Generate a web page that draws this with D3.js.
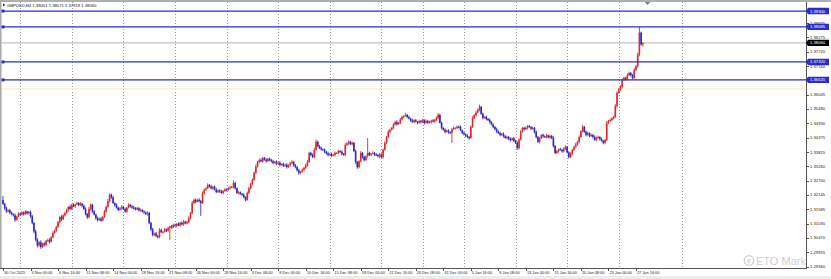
<!DOCTYPE html>
<html>
<head>
<meta charset="utf-8">
<script src="https://cdn.jsdelivr.net/npm/d3@7"></script>
<style>
  html, body { margin: 0; padding: 0; background: #fff; }
  #chart { width: 831px; height: 279px; }
  svg { display: block; }
</style>
</head>
<body>
<div id="chart"></div>
<script>
// GBPUSD H4 closes, bar 0 = 30 Oct 08:00
const closes = [
  1.3180,1.3162,1.3150,1.3155,1.3146,1.3140,1.3135,1.3118,1.3130,1.3142,
  1.3138,1.3146,1.3140,1.3150,1.3143,1.3148,1.3132,1.3105,1.3072,1.3040,
  1.3018,1.3030,1.3012,1.3025,1.3020,1.3036,1.3039,1.3032,1.3050,1.3067,
  1.3075,1.3090,1.3108,1.3129,1.3120,1.3135,1.3144,1.3155,1.3168,1.3160,
  1.3176,1.3170,1.3178,1.3183,1.3175,1.3180,1.3172,1.3160,1.3140,1.3128,
  1.3160,1.3176,1.3150,1.3138,1.3125,1.3117,1.3122,1.3115,1.3129,1.3150,
  1.3168,1.3190,1.3215,1.3205,1.3183,1.3175,1.3165,1.3156,1.3162,1.3168,
  1.3160,1.3150,1.3165,1.3176,1.3170,1.3165,1.3164,1.3158,1.3163,1.3155,
  1.3156,1.3150,1.3146,1.3140,1.3144,1.3106,1.3080,1.3059,1.3065,1.3055,
  1.3051,1.3078,1.3070,1.3071,1.3080,1.3075,1.3086,1.3092,1.3088,1.3098,
  1.3094,1.3102,1.3096,1.3106,1.3100,1.3110,1.3104,1.3109,1.3125,1.3144,
  1.3183,1.3195,1.3188,1.3195,1.3190,1.3183,1.3222,1.3235,1.3240,1.3253,
  1.3248,1.3240,1.3246,1.3235,1.3226,1.3232,1.3228,1.3222,1.3230,1.3236,
  1.3234,1.3240,1.3244,1.3246,1.3261,1.3240,1.3222,1.3225,1.3218,1.3215,
  1.3205,1.3195,1.3222,1.3240,1.3258,1.3273,1.3300,1.3325,1.3343,1.3350,
  1.3345,1.3358,1.3352,1.3346,1.3355,1.3351,1.3345,1.3339,1.3344,1.3336,
  1.3340,1.3331,1.3335,1.3328,1.3332,1.3323,1.3330,1.3338,1.3343,1.3330,
  1.3323,1.3310,1.3300,1.3305,1.3312,1.3320,1.3330,1.3343,1.3378,1.3370,
  1.3362,1.3390,1.3421,1.3405,1.3397,1.3392,1.3390,1.3382,1.3376,1.3370,
  1.3374,1.3368,1.3370,1.3378,1.3378,1.3385,1.3382,1.3374,1.3370,1.3409,
  1.3415,1.3421,1.3412,1.3417,1.3385,1.3343,1.3323,1.3345,1.3378,1.3362,
  1.3350,1.3365,1.3378,1.3370,1.3375,1.3378,1.3372,1.3370,1.3365,1.3372,
  1.3362,1.3390,1.3417,1.3440,1.3460,1.3468,1.3475,1.3488,1.3498,1.3490,
  1.3495,1.3508,1.3518,1.3522,1.3526,1.3518,1.3512,1.3505,1.3498,1.3505,
  1.3500,1.3495,1.3502,1.3498,1.3506,1.3495,1.3502,1.3496,1.3498,1.3504,
  1.3500,1.3506,1.3515,1.3526,1.3495,1.3475,1.3468,1.3460,1.3465,1.3458,
  1.3456,1.3470,1.3475,1.3475,1.3480,1.3479,1.3466,1.3456,1.3450,1.3445,
  1.3440,1.3436,1.3480,1.3514,1.3525,1.3535,1.3545,1.3557,1.3530,1.3514,
  1.3518,1.3510,1.3506,1.3498,1.3488,1.3479,1.3470,1.3462,1.3455,1.3448,
  1.3452,1.3444,1.3436,1.3440,1.3432,1.3428,1.3435,1.3425,1.3417,1.3397,
  1.3430,1.3460,1.3475,1.3470,1.3475,1.3482,1.3479,1.3472,1.3475,1.3460,
  1.3440,1.3421,1.3435,1.3448,1.3442,1.3440,1.3446,1.3438,1.3444,1.3436,
  1.3405,1.3378,1.3385,1.3392,1.3390,1.3384,1.3395,1.3401,1.3380,1.3362,
  1.3375,1.3390,1.3401,1.3410,1.3421,1.3440,1.3462,1.3479,1.3460,1.3448,
  1.3455,1.3444,1.3448,1.3440,1.3428,1.3438,1.3440,1.3432,1.3425,1.3417,
  1.3428,1.3495,1.3502,1.3506,1.3512,1.3518,1.3560,1.3612,1.3625,1.3635,
  1.3662,1.3670,1.3665,1.3681,1.3689,1.3680,1.3670,1.3701,1.3715,1.3760,
  1.3846,1.3800,1.3806
];
const firstOpen = 1.3195;
// wick lengths above / below the body, in pips
const upperWick = [
  15,4,6,3,5,4,3,7,4,5, 3,6,4,5,3,4,6,5,4,7, 6,5,8,4,6,3,5,7,4,6, 5,4,6,3,7,4,5,6,3,8,
  4,6,3,5,4,7,3,5,6,4, 8,5,4,6,3,5,4,7,4,6, 5,9,6,4,5,3,6,4,5,7, 4,5,3,6,4,5,7,3,5,4,
  6,3,5,4,7,5,4,6,3,5, 4,7,5,3,6,4,5,3,6,4, 5,3,6,4,5,7,4,5,6,4, 8,5,6,4,7,5,6,4,5,7,
  4,6,3,5,7,4,5,6,3,5, 4,5,6,3,9,5,4,6,3,5, 6,4,5,7,4,6,5,8,4,6, 7,5,4,6,3,5,4,6,3,5,
  4,6,3,5,4,6,3,5,7,4, 5,4,6,3,5,4,6,7,5,4, 6,8,9,5,4,6,3,5,4,6, 3,5,4,6,3,5,4,6,3,7,
  5,6,4,5,3,6,4,5,7,4, 5,4,58,5,3,6,4,5,3,6, 4,5,6,4,7,5,4,6,5,7, 4,6,5,3,7,4,5,3,6,4,
  5,3,6,4,5,3,6,4,5,3, 6,4,5,8,4,5,3,6,4,5, 4,5,6,3,5,4,6,3,5,4, 6,4,5,7,4,6,5,9,4,5,
  3,5,4,6,3,5,4,6,3,5, 4,6,3,5,4,6,3,5,4,6, 5,7,4,5,6,4,5,3,6,4, 5,4,6,3,5,4,6,3,5,4,
  6,4,5,3,6,4,5,7,4,5, 6,4,5,7,4,6,5,8,4,5, 6,3,5,4,6,4,5,3,6,4, 5,7,4,6,5,4,8,6,5,7,
  6,5,4,7,6,4,5,7,6,8, 22,4,1
];
const lowerWick = [
  4,6,5,3,6,4,5,8,4,3, 5,4,6,3,5,4,6,5,7,6, 8,5,7,4,6,5,4,6,3,5, 4,6,3,5,7,4,5,3,6,4,
  5,3,6,4,5,3,6,4,5,7, 4,6,5,3,7,6,4,5,3,4, 5,4,6,5,3,6,4,5,3,6, 4,5,6,3,5,4,6,4,3,5,
  6,4,5,3,6,5,7,6,4,5, 6,5,4,6,3,5,4,47,5,3, 4,6,3,5,4,6,3,5,4,6, 5,4,6,3,5,50,4,6,5,3,
  5,4,6,3,5,4,6,3,5,4, 6,3,5,4,6,5,4,6,3,5, 4,6,3,5,4,6,3,5,4,6, 3,5,4,6,3,5,4,6,3,5,
  4,6,3,5,4,6,3,5,4,6, 5,4,7,5,3,6,4,5,3,5, 4,6,3,5,4,6,3,5,4,6, 3,5,4,6,3,5,4,6,3,5,
  4,6,3,5,4,8,7,5,4,6, 5,3,6,4,5,3,6,4,5,7, 4,6,3,5,4,6,3,5,4,6, 3,5,4,6,3,5,4,6,3,5,
  4,6,3,5,4,6,3,5,4,6, 3,5,4,6,3,5,4,6,3,5, 4,39,3,5,4,6,3,5,4,6, 5,7,3,5,4,6,3,5,4,6,
  3,5,4,6,3,5,4,6,3,5, 4,6,3,5,4,6,3,5,4,7, 6,4,3,5,4,6,3,5,4,6, 5,4,6,3,5,4,6,3,5,4,
  6,5,4,6,3,5,4,6,5,6, 4,6,3,5,4,6,3,5,4,6, 3,5,4,6,3,5,4,6,3,5, 6,4,5,3,6,4,5,6,4,5,
  6,4,5,6,4,5,6,4,5,7, 6,5,8
];

// price scale labels
const priceTicks = ['1.38835','1.38275','1.37720','1.37160','1.36605','1.36045','1.35490','1.34930',
  '1.34375','1.33815','1.33260','1.32700','1.32145','1.31585','1.31030','1.30470','1.29915','1.29360'];
// time scale labels, one every 16 bars
const timeLabels = ['30 Oct 2025','4 Nov 00:00','6 Nov 16:00','11 Nov 08:00','14 Nov 00:00','18 Nov 16:00',
  '21 Nov 08:00','26 Nov 00:00','28 Nov 16:00','3 Dec 08:00','8 Dec 00:00','10 Dec 16:00',
  '15 Dec 08:00','18 Dec 00:00','22 Dec 16:00','26 Dec 08:00','31 Dec 00:00','5 Jan 16:00',
  '8 Jan 08:00','13 Jan 00:00','15 Jan 16:00','20 Jan 08:00','23 Jan 00:00','27 Jan 16:00'];
const labelStep = 16;
// weekly separators (bar index of each Monday 00:00)
const weekBars = [10,40,70,100,130,160,190,220,244,268,298,328,358,395];
// horizontal line objects
const blueLevels = [1.39300, 1.38685, 1.37320, 1.36620];
const yellowLevel = 1.3627;
const bidPrice = 1.38060;
const header = 'GBPUSD,H4  1.38001 1.38071 1.37919 1.38060';

const W = 831, H = 279;
const axisX = 806, axisY = 268;

let svg = d3.select('#chart').append('svg')
  .attr('width', W).attr('height', H)
  .style('font-family', '"Liberation Sans", Arial, sans-serif');

svg.append('rect').attr('width', W).attr('height', H).attr('fill', '#fff');

// bars
let bars = closes.map((c, i) => {
  let o = i === 0 ? firstOpen : closes[i - 1];
  let hi = Math.max(o, c) + upperWick[i] / 10000;
  let lo = Math.min(o, c) - lowerWick[i] / 10000;
  return { i: i, o: o, h: hi, l: lo, c: c };
});

let x = d3.scaleLinear().domain([0, 467]).range([3, 806.24]);
let y = d3.scaleLinear().domain([+priceTicks[priceTicks.length - 1], +priceTicks[0]]).range([266.5, 23]);

let plot = svg.append('g');
svg.append('clipPath').attr('id', 'clip')
  .append('rect').attr('x', 0).attr('y', 0).attr('width', axisX).attr('height', axisY);
plot.attr('clip-path', 'url(#clip)');

// watermark
let wm = plot.append('g').attr('fill', '#cfcfcf');
wm.append('circle').attr('cx', 749).attr('cy', 260.5).attr('r', 4.8)
  .attr('fill', 'none').attr('stroke', '#cfcfcf').attr('stroke-width', 1.3);
wm.append('text').attr('x', 749).attr('y', 263).attr('text-anchor', 'middle')
  .attr('font-size', 7).attr('font-weight', 'bold').text('e');
wm.append('text').attr('x', 756).attr('y', 264.5).attr('font-size', 11).text('ETO Markets');

// weekly grid
plot.selectAll('.vgrid').data(weekBars).enter().append('line')
  .attr('x1', d => Math.round(x(d)) + 0.5).attr('x2', d => Math.round(x(d)) + 0.5)
  .attr('y1', 2).attr('y2', axisY)
  .attr('stroke', '#9a9a9a').attr('stroke-width', 1).attr('stroke-dasharray', '1,2');

// faint level
plot.append('line').attr('x1', 0).attr('x2', axisX)
  .attr('y1', y(yellowLevel)).attr('y2', y(yellowLevel))
  .attr('stroke', '#f3edc4').attr('stroke-width', 1);

// bid line
plot.append('line').attr('x1', 0).attr('x2', axisX)
  .attr('y1', y(bidPrice)).attr('y2', y(bidPrice))
  .attr('stroke', '#b4b4b4').attr('stroke-width', 1);

// candles
let col = d => d.c >= d.o ? '#dd2a2a' : '#2a2acc';
let cg = plot.append('g');
cg.selectAll('.wick').data(bars).enter().append('line')
  .attr('x1', d => x(d.i)).attr('x2', d => x(d.i))
  .attr('y1', d => y(d.h)).attr('y2', d => y(d.l))
  .attr('stroke', col).attr('stroke-width', 0.9);
cg.selectAll('.body').data(bars).enter().append('rect')
  .attr('x', d => x(d.i) - 0.8).attr('width', 1.6)
  .attr('y', d => y(Math.max(d.o, d.c)))
  .attr('height', d => Math.max(0.9, y(Math.min(d.o, d.c)) - y(Math.max(d.o, d.c))))
  .attr('fill', col);

// blue horizontal lines
plot.selectAll('.lvl').data(blueLevels).enter().append('line')
  .attr('x1', 0).attr('x2', axisX)
  .attr('y1', d => y(d)).attr('y2', d => y(d))
  .attr('stroke', '#2b2bd0').attr('stroke-width', 1.3);
plot.selectAll('.anchor').data(blueLevels).enter().append('rect')
  .attr('x', 1.5).attr('y', d => y(d) - 1.5).attr('width', 3).attr('height', 3)
  .attr('fill', '#2b2bd0');

// frame
svg.append('rect').attr('x', 0).attr('y', 0).attr('width', W).attr('height', 2).attr('fill', '#b0b0b0');
svg.append('rect').attr('x', 0).attr('y', 0).attr('width', 1.5).attr('height', axisY).attr('fill', '#a8a8a8');
svg.append('rect').attr('x', 0).attr('y', 276).attr('width', W).attr('height', 3).attr('fill', '#ececec');
svg.append('path').attr('d', 'M645,2 L650,2 L647.5,5 Z').attr('fill', '#777');

// header
svg.append('path').attr('d', 'M3,3.5 L5.5,5 L3,6.5 Z').attr('fill', '#333');
svg.append('text').attr('x', 7).attr('y', 6.5).attr('font-size', 4.2).attr('fill', '#111').text(header);

//y axis
svg.append('line').attr('x1', axisX + 0.5).attr('x2', axisX + 0.5).attr('y1', 2).attr('y2', axisY)
  .attr('stroke', '#555').attr('stroke-width', 1);
let ya = svg.append('g');
ya.selectAll('.yt').data(priceTicks).enter().append('line')
  .attr('x1', axisX).attr('x2', axisX + 3)
  .attr('y1', d => Math.round(y(+d)) + 0.5).attr('y2', d => Math.round(y(+d)) + 0.5)
  .attr('stroke', '#555');
ya.selectAll('.yl').data(priceTicks).enter().append('text')
  .attr('x', axisX + 4).attr('y', d => y(+d) + 1.5)
  .attr('font-size', 4.2).attr('fill', '#222').text(d => d);

// price tags
let tag = (v, fill) => {
  let g = svg.append('g');
  let yy = y(v);
  g.append('path')
    .attr('d', `M${axisX},${yy} L${axisX + 2},${yy - 3.2} L829,${yy - 3.2} L829,${yy + 3.2} L${axisX + 2},${yy + 3.2} Z`)
    .attr('fill', fill);
  g.append('text').attr('x', axisX + 4).attr('y', yy + 1.5)
    .attr('font-size', 4.2).attr('fill', '#fff').text(v.toFixed(5));
};
blueLevels.forEach(v => tag(v, '#2b2bd0'));
tag(bidPrice, '#000');

//x axis
svg.append('line').attr('x1', 0).attr('x2', axisX + 1).attr('y1', axisY + 0.5).attr('y2', axisY + 0.5)
  .attr('stroke', '#555');
let xa = svg.append('g');
xa.selectAll('.xt').data(timeLabels).enter().append('line')
  .attr('x1', (d, k) => Math.round(x(k * labelStep)) + 0.5).attr('x2', (d, k) => Math.round(x(k * labelStep)) + 0.5)
  .attr('y1', axisY).attr('y2', axisY + 3).attr('stroke', '#555');
xa.selectAll('.xl').data(timeLabels).enter().append('text')
  .attr('x', (d, k) => x(k * labelStep) + 1).attr('y', 274)
  .attr('font-size', 3.9).attr('fill', '#222').text(d => d);
</script>
</body>
</html>
